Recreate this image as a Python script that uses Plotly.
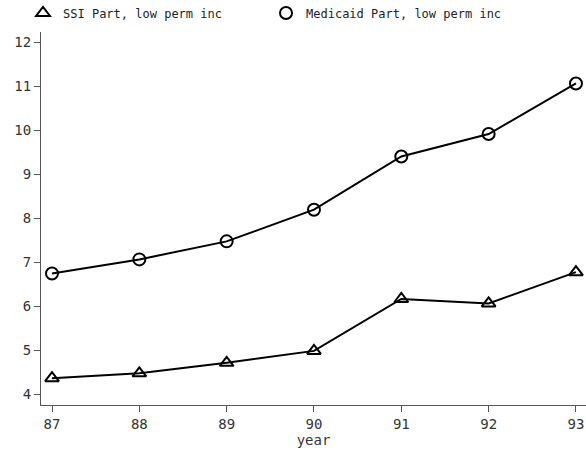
import plotly.graph_objects as go

years = [87, 88, 89, 90, 91, 92, 93]
ssi = [4.36, 4.47, 4.71, 4.98, 6.16, 6.06, 6.77]
medicaid = [6.74, 7.06, 7.47, 8.19, 9.40, 9.91, 11.06]
x_ticks = [87, 88, 89, 90, 91, 92, 93]
y_ticks = [4, 5, 6, 7, 8, 9, 10, 11, 12]

font_family = "DejaVu Sans Mono"

fig = go.Figure()
for name, vals, sym in [("SSI Part, low perm inc", ssi, "triangle-up-open"),
                        ("Medicaid Part, low perm inc", medicaid, "circle-open")]:
    fig.add_trace(go.Scatter(
        x=years, y=vals, mode="lines", showlegend=False, hoverinfo="skip",
        line=dict(color="black", width=2),
    ))
    fig.add_trace(go.Scatter(
        x=years, y=vals, mode="markers", name=name,
        marker=dict(symbol=sym, size=12, color="black", line=dict(width=2, color="black")),
    ))

axis_common = dict(
    showgrid=False, zeroline=False, showline=True, linecolor="#555555", linewidth=1,
    ticks="outside", ticklen=6, tickcolor="#555555", tickwidth=1,
    tickfont=dict(family=font_family, size=14, color="#333333"),
)

fig.update_layout(
    width=586, height=450,
    margin=dict(l=41, r=0, t=32, b=45, autoexpand=False),
    plot_bgcolor="white", paper_bgcolor="white",
    font=dict(family=font_family, size=13, color="#333333"),
    xaxis=dict(range=[86.874, 93.115], tickvals=x_ticks,
               title=dict(text="year", standoff=0, font=dict(family=font_family, size=14)),
               **axis_common),
    yaxis=dict(range=[3.75, 12.23], tickvals=y_ticks, **axis_common),
    legend=dict(orientation="h", x=-0.033, xanchor="left", y=1.051, yanchor="middle",
                entrywidth=198, entrywidthmode="pixels",
                font=dict(family=font_family, size=12, color="#222222"),
                bgcolor="rgba(0,0,0,0)"),
)

fig.write_html("out.html", config={"displayModeBar": False},
               post_script="document.body.style.margin='0';document.body.style.padding='0';")
